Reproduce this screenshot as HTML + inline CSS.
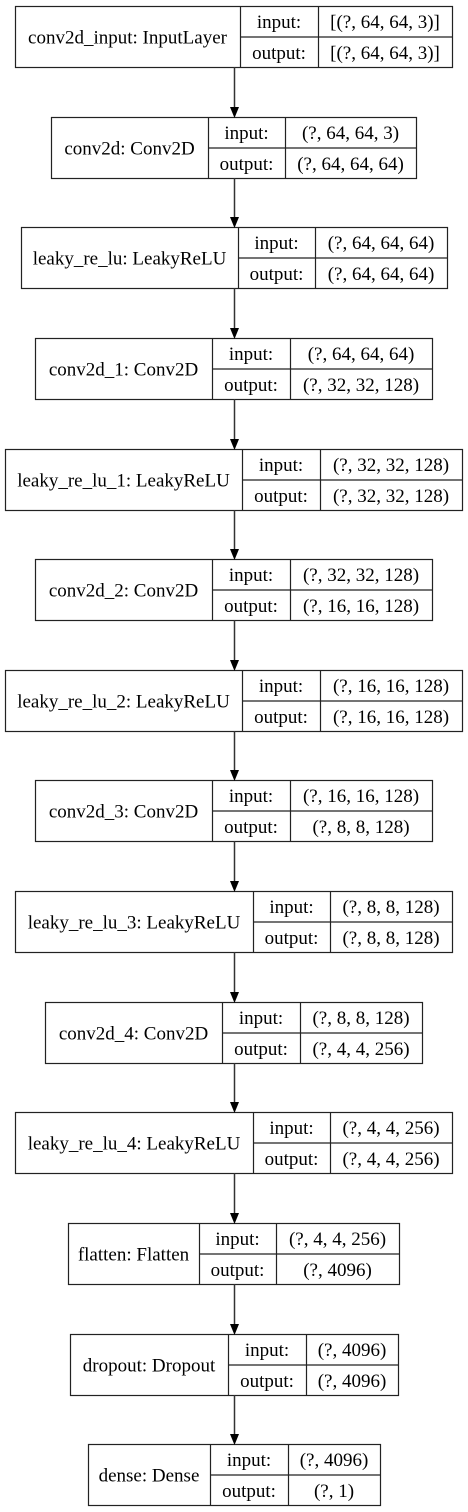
<!DOCTYPE html>
<html><head><meta charset="utf-8"><style>html,body{margin:0;padding:0;background:#fff;}svg{display:block}text{font-family:"Liberation Serif","Times New Roman",serif;}</style></head><body>
<svg width="468" height="1512" xmlns="http://www.w3.org/2000/svg" style="font-family:'Liberation Serif','Times New Roman',serif" font-size="19" fill="#000">
<g id="g"></g>
<script><![CDATA[
var B=[
["conv2d_input: InputLayer","[(?, 64, 64, 3)]","[(?, 64, 64, 3)]",6,15,240,318,452],
["conv2d: Conv2D","(?, 64, 64, 3)","(?, 64, 64, 64)",117,51,208,285,416],
["leaky_re_lu: LeakyReLU","(?, 64, 64, 64)","(?, 64, 64, 64)",227,21,238,315,447],
["conv2d_1: Conv2D","(?, 64, 64, 64)","(?, 32, 32, 128)",338,35,212,290,432],
["leaky_re_lu_1: LeakyReLU","(?, 32, 32, 128)","(?, 32, 32, 128)",449,5,242,320,462],
["conv2d_2: Conv2D","(?, 32, 32, 128)","(?, 16, 16, 128)",559,35,212,290,432],
["leaky_re_lu_2: LeakyReLU","(?, 16, 16, 128)","(?, 16, 16, 128)",670,5,242,320,462],
["conv2d_3: Conv2D","(?, 16, 16, 128)","(?, 8, 8, 128)",780,35,212,290,432],
["leaky_re_lu_3: LeakyReLU","(?, 8, 8, 128)","(?, 8, 8, 128)",891,15,253,330,452],
["conv2d_4: Conv2D","(?, 8, 8, 128)","(?, 4, 4, 256)",1002,45,222,300,422],
["leaky_re_lu_4: LeakyReLU","(?, 4, 4, 256)","(?, 4, 4, 256)",1112,15,253,330,452],
["flatten: Flatten","(?, 4, 4, 256)","(?, 4096)",1223,68,199,276,399],
["dropout: Dropout","(?, 4096)","(?, 4096)",1334,70,228,306,398],
["dense: Dense","(?, 4096)","(?, 1)",1444,88,210,288,380]];
var s="",H=61;
function t(x,y,str){return '<text x="'+x+'" y="'+y+'" text-anchor="middle">'+str+'</text>';}
for(var i=0;i<B.length;i++){var b=B[i],y=b[3],x0=b[4],d1=b[5],d2=b[6],x1=b[7],m=y+H/2;
s+='<rect x="'+(x0+.5)+'" y="'+(y+.5)+'" width="'+(x1-x0)+'" height="'+H+'" fill="none" stroke="#222" stroke-width="1.2"/>';
s+='<line x1="'+(d1+.5)+'" y1="'+y+'" x2="'+(d1+.5)+'" y2="'+(y+H)+'" stroke="#222" stroke-width="1.2"/>';
s+='<line x1="'+(d2+.5)+'" y1="'+y+'" x2="'+(d2+.5)+'" y2="'+(y+H)+'" stroke="#222" stroke-width="1.2"/>';
s+='<line x1="'+d1+'" y1="'+(m+.5)+'" x2="'+x1+'" y2="'+(m+.5)+'" stroke="#222" stroke-width="1.2"/>';
s+=t((x0+d1)/2,m+7,b[0])+t((d1+d2)/2,y+22,"input:")+t((d1+d2)/2,y+53,"output:")+t((d2+x1)/2,y+22,b[1])+t((d2+x1)/2,y+53,b[2]);
if(i>0){var py=B[i-1][3]+H;s+='<line x1="234.5" y1="'+py+'" x2="234.5" y2="'+(y-9)+'" stroke="#333" stroke-width="1.5"/><polygon points="230,'+(y-10)+' 239,'+(y-10)+' 234.5,'+(y+1)+'" fill="#000"/>';}
}
document.getElementById("g").innerHTML=s;
]]></script>
</svg>
</body></html>
